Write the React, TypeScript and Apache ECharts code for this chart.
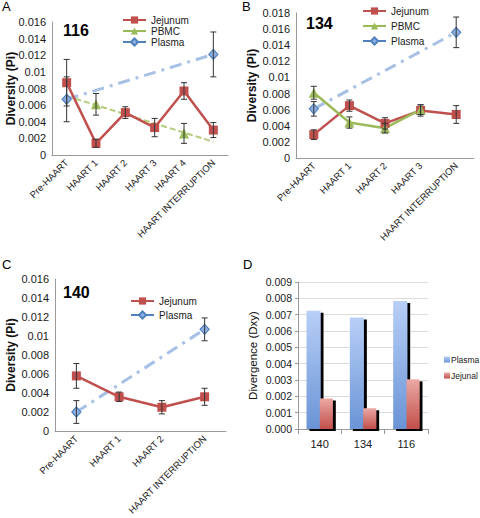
import React, { useEffect, useRef } from "react";
import * as echarts from "echarts";

// ---------- DATA ----------
const catsA = ["Pre-HAART", "HAART 1", "HAART 2", "HAART 3", "HAART 4", "HAART INTERRUPTION"];
const jejA = [0.0087, 0.0014, 0.0051, 0.0033, 0.0077, 0.003];
const jejErrA = [0.0028, 0.0005, 0.0007, 0.0011, 0.001, 0.0009];
const pbmcA = [null, 0.0061, null, null, 0.0026, null];
const pbmcErrA = [null, 0.0013, null, null, 0.0012, null];
const pbmcTrendA = [0.0071, null, null, null, null, 0.0016];
const plasmaA = [0.0067, null, null, null, null, 0.0121];
const plasmaErrA = [0.0027, null, null, null, null, 0.0027];

const catsB = ["Pre-HAART", "HAART 1", "HAART 2", "HAART 3", "HAART INTERRUPTION"];
const jejB = [0.0029, 0.0065, 0.0043, 0.0059, 0.0054];
const jejErrB = [0.0006, 0.0007, 0.0007, 0.0007, 0.0011];
const pbmcB = [0.0081, 0.0044, 0.0037, 0.006, null];
const pbmcErrB = [0.0008, 0.0007, 0.0006, 0.0006, null];
const plasmaB = [0.0061, null, null, null, 0.0156];
const plasmaErrB = [0.0009, null, null, null, 0.0019];

const catsC = ["Pre-HAART", "HAART 1", "HAART 2", "HAART INTERRUPTION"];
const jejC = [0.0058, 0.0036, 0.0025, 0.0036];
const jejErrC = [0.0013, 0.0005, 0.0007, 0.0009];
const plasmaC = [0.002, null, null, 0.0107];
const plasmaErrC = [0.0012, null, null, 0.0012];

const catsD = ["140", "134", "116"];
const plasmaD = [0.00724, 0.00682, 0.00784];
const jejunalD = [0.00187, 0.00127, 0.00304];

// ---------- STYLE ----------
const FONT = '"Liberation Sans", Arial, sans-serif';
const RED = "#c0504d";
const GREEN = "#9bbb59";
const BLUE = "#4f81bd";
const TXT = "#1a1a1a";

function errData(vals: (number | null)[], errs: (number | null)[]) {
  const out: any[] = [];
  vals.forEach((v, i) => {
    const e = errs[i];
    if (v != null && e != null) out.push([i, v - e, v + e]);
  });
  return out;
}

function errSeries(data: any[]) {
  return {
    type: "custom",
    data,
    encode: { x: 0, y: [1, 2] },
    z: 5,
    silent: true,
    renderItem: (params: any, api: any) => {
      const x = api.value(0);
      const lo = api.coord([x, api.value(1)]);
      const hi = api.coord([x, api.value(2)]);
      const st = { stroke: "#333", lineWidth: 1 };
      return {
        type: "group",
        children: [
          { type: "line", shape: { x1: lo[0], y1: lo[1], x2: hi[0], y2: hi[1] }, style: st },
          { type: "line", shape: { x1: lo[0] - 3, y1: lo[1], x2: lo[0] + 3, y2: lo[1] }, style: st },
          { type: "line", shape: { x1: hi[0] - 3, y1: hi[1], x2: hi[0] + 3, y2: hi[1] }, style: st },
        ],
      };
    },
  };
}

const jejStyle = {
  name: "Jejunum",
  type: "line",
  symbol: "rect",
  symbolSize: 9,
  itemStyle: { color: RED },
  lineStyle: { color: RED, width: 2.5 },
  z: 4,
};
const pbmcStyle = {
  name: "PBMC",
  type: "line",
  symbol: "triangle",
  symbolSize: 10,
  itemStyle: { color: GREEN },
  lineStyle: { color: GREEN, width: 2.5 },
  z: 4,
};
const plasmaStyle = {
  name: "Plasma",
  type: "line",
  connectNulls: true,
  symbol: "diamond",
  symbolSize: [9, 10],
  itemStyle: { color: "#8fb0e0", borderColor: BLUE, borderWidth: 1.2 },
  lineStyle: { color: "#a7c1e6", width: 3, type: [12, 6, 3, 6] },
  z: 3,
};

function lineOption(cfg: any) {
  return {
    animation: false,
    textStyle: { fontFamily: FONT },
    grid: { ...cfg.grid, outerBoundsMode: "none", containLabel: false },
    graphic: [
      { type: "text", left: 2, top: 0, style: { text: cfg.letter, font: `13px ${FONT}`, fill: "#000" } },
      { type: "text", left: cfg.num[0], top: cfg.num[1], style: { text: cfg.numText, font: `bold 16px ${FONT}`, fill: "#000" } },
    ],
    legend: {
      orient: "vertical",
      left: cfg.legend[0],
      top: cfg.legend[1],
      itemGap: cfg.legend[2],
      itemWidth: 23,
      itemHeight: 9,
      textStyle: { fontSize: 10, color: TXT, fontFamily: FONT },
      data: cfg.legendNames.map((n: string) =>
        n === "Plasma" ? { name: n, lineStyle: { type: "solid", color: BLUE, width: 2 } } : { name: n }
      ),
    },
    xAxis: {
      type: "category",
      data: cfg.cats,
      axisLine: { lineStyle: { color: "#9a9a9a" } },
      axisTick: { show: false },
      axisLabel: { rotate: 45, fontSize: 9.5, color: TXT, margin: 6, interval: 0, fontFamily: FONT },
    },
    yAxis: {
      type: "value",
      min: 0,
      max: cfg.max,
      interval: 0.002,
      splitLine: { show: false },
      axisLine: { show: true, lineStyle: { color: "#9a9a9a" } },
      axisTick: { show: false },
      axisLabel: { fontSize: 11, color: TXT, margin: 6, fontFamily: FONT },
      name: "Diversity (Pi)",
      nameLocation: "middle",
      nameRotate: 90,
      nameGap: cfg.nameGap,
      nameMoveOverlap: false,
      nameTextStyle: { fontWeight: "bold", fontSize: 12, color: "#111", fontFamily: FONT },
    },
    series: cfg.series,
  };
}

const optionA = lineOption({
  letter: "A",
  numText: "116",
  num: [63, 22],
  grid: { left: 52, top: 22, width: 176, height: 133 },
  legend: [117, 10, 1],
  legendNames: ["Jejunum", "PBMC", "Plasma"],
  cats: catsA,
  max: 0.016,
  nameGap: 35,
  series: [
    { ...plasmaStyle, data: plasmaA },
    {
      name: "PBMC trend",
      type: "line",
      data: pbmcTrendA,
      connectNulls: true,
      symbol: "none",
      lineStyle: { color: "#b3cc7a", width: 2, type: [6, 3] },
      z: 2,
    },
    { ...jejStyle, data: jejA },
    { ...pbmcStyle, data: pbmcA },
    errSeries([...errData(jejA, jejErrA), ...errData(pbmcA, pbmcErrA), ...errData(plasmaA, plasmaErrA)]),
  ],
});

const optionB = lineOption({
  letter: "B",
  numText: "134",
  num: [66, 15],
  grid: { left: 56, top: 13, width: 178, height: 145 },
  legend: [117, 1, 5],
  legendNames: ["Jejunum", "PBMC", "Plasma"],
  cats: catsB,
  max: 0.018,
  nameGap: 38,
  series: [
    { ...plasmaStyle, data: plasmaB },
    { ...jejStyle, data: jejB },
    { ...pbmcStyle, data: pbmcB },
    errSeries([...errData(jejB, jejErrB), ...errData(pbmcB, pbmcErrB), ...errData(plasmaB, plasmaErrB)]),
  ],
});

const optionC = lineOption({
  letter: "C",
  numText: "140",
  num: [63, 26],
  grid: { left: 55, top: 21, width: 171, height: 152 },
  legend: [125, 33, 4],
  legendNames: ["Jejunum", "Plasma"],
  cats: catsC,
  max: 0.016,
  nameGap: 38,
  series: [
    { ...plasmaStyle, data: plasmaC },
    { ...jejStyle, data: jejC },
    errSeries([...errData(jejC, jejErrC), ...errData(plasmaC, plasmaErrC)]),
  ],
});

const gradBlue = new echarts.graphic.LinearGradient(0, 0, 0, 1, [
  { offset: 0, color: "#b8cff7" },
  { offset: 1, color: "#6a94d6" },
]);
const gradRed = new echarts.graphic.LinearGradient(0, 0, 0, 1, [
  { offset: 0, color: "#eba9a5" },
  { offset: 1, color: "#c24e4a" },
]);
const barShadow = { shadowColor: "#000", shadowBlur: 0, shadowOffsetX: 3, shadowOffsetY: 2 };

const optionD = {
  animation: false,
  textStyle: { fontFamily: FONT },
  grid: { left: 58, top: 24, width: 130, height: 147, outerBoundsMode: "none", containLabel: false },
  graphic: [{ type: "text", left: 3, top: 0, style: { text: "D", font: `13px ${FONT}`, fill: "#000" } }],
  legend: {
    orient: "vertical",
    left: 204,
    top: 97,
    padding: 0,
    itemGap: 7,
    itemWidth: 6,
    itemHeight: 6,
    icon: "rect",
    textStyle: { fontSize: 8.5, color: TXT, fontFamily: FONT, padding: [0, 0, 0, -4] },
    data: ["Plasma", "Jejunal"],
  },
  xAxis: {
    type: "category",
    data: catsD,
    axisLine: { lineStyle: { color: "#9a9a9a" } },
    axisTick: { show: true, length: 5, lineStyle: { color: "#9a9a9a" } },
    axisLabel: { fontSize: 11, color: TXT, margin: 9, fontFamily: FONT },
  },
  yAxis: {
    type: "value",
    min: 0,
    max: 0.009,
    interval: 0.001,
    splitLine: { show: true, lineStyle: { color: "#dcdcdc" } },
    axisLine: { show: true, lineStyle: { color: "#9a9a9a" } },
    axisTick: { show: true, length: 3, lineStyle: { color: "#9a9a9a" } },
    axisLabel: { fontSize: 10.5, color: TXT, margin: 6, fontFamily: FONT, formatter: (v: number) => v.toFixed(3) },
    name: "Divergence (Dxy)",
    nameLocation: "middle",
    nameRotate: 90,
    nameGap: 39,
    nameMoveOverlap: false,
    nameTextStyle: { fontSize: 11.5, color: "#111", fontFamily: FONT },
  },
  series: [
    { name: "Plasma", type: "bar", data: plasmaD, barWidth: 14, barGap: "-5%", itemStyle: { color: gradBlue, ...barShadow } },
    { name: "Jejunal", type: "bar", data: jejunalD, barWidth: 13, itemStyle: { color: gradRed, ...barShadow } },
  ],
};

function Panel({ option, style }: { option: any; style: React.CSSProperties }) {
  const ref = useRef<HTMLDivElement>(null);
  useEffect(() => {
    if (!ref.current) return;
    const chart = echarts.init(ref.current, undefined, { renderer: "svg" });
    chart.setOption(option);
    return () => chart.dispose();
  }, [option]);
  return <div ref={ref} style={{ position: "absolute", ...style }} />;
}

export default function App() {
  useEffect(() => {
    document.body.style.margin = "0";
  }, []);
  return (
    <div style={{ position: "relative", width: 480, height: 518, background: "#fff", overflow: "hidden" }}>
      <Panel option={optionA} style={{ left: 0, top: 0, width: 240, height: 258 }} />
      <Panel option={optionB} style={{ left: 240, top: 0, width: 240, height: 258 }} />
      <Panel option={optionC} style={{ left: 0, top: 258, width: 240, height: 260 }} />
      <Panel option={optionD} style={{ left: 240, top: 258, width: 240, height: 260 }} />
    </div>
  );
}
